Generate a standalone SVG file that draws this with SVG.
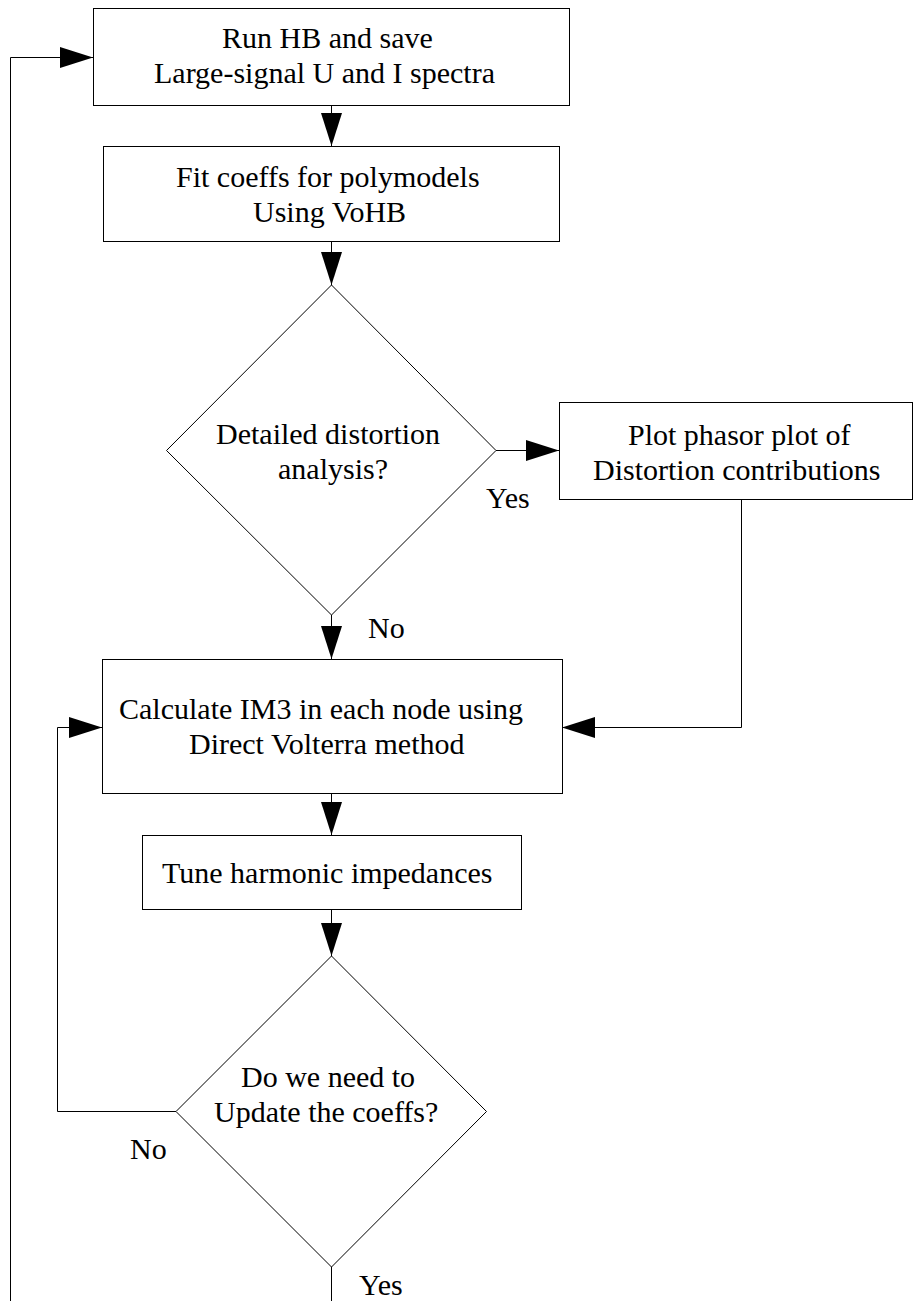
<svg xmlns="http://www.w3.org/2000/svg" width="916" height="1301" viewBox="0 0 916 1301">
<style>
.box{fill:#fff;stroke:#000;stroke-width:1}
.dia{fill:#fff;stroke:#000;stroke-width:1}
text{font-family:'Liberation Serif','Times New Roman',serif;font-size:30px;fill:#000}
.c{fill:none;stroke:#000;stroke-width:1;marker-end:url(#ah)}
</style>
<defs>
<marker id="ah" markerUnits="userSpaceOnUse" markerWidth="33" markerHeight="21" refX="33" refY="10.5" orient="auto">
<path d="M0,0 L33,10.5 L0,21 Z" fill="#000"/>
</marker>
</defs>
<rect width="916" height="1301" fill="#fff"/>
<g id="connectors">
<path class="c" d="M331.5,105 V146"/>
<path class="c" d="M331.5,241 V285"/>
<path class="c" d="M496,450.5 H559"/>
<path class="c" d="M331.5,615 V659"/>
<path class="c" d="M741.5,499 V727.5 H562"/>
<path class="c" d="M331.5,793 V835"/>
<path class="c" d="M331.5,909 V956"/>
<path class="c" d="M176,1111.5 H57.5 V727.5 H102"/>
<path class="c" d="M331.5,1267 V1320 H10.5 V57.5 H93"/>
</g>
<g id="n1">
<rect class="box" x="93.5" y="8.5" width="476" height="97"/>
<text x="222" y="48">Run HB and save</text>
<text x="154" y="83">Large-signal U and I spectra</text>
</g>
<g id="n2">
<rect class="box" x="103.5" y="146.5" width="456" height="95"/>
<text x="176" y="187">Fit coeffs for polymodels</text>
<text x="253" y="222">Using VoHB</text>
</g>
<g id="n3">
<polygon class="dia" points="331.5,285 496,450.5 331.5,615 166.5,450.5"/>
<text x="216" y="444">Detailed distortion</text>
<text x="278" y="479">analysis?</text>
</g>
<g id="n4">
<rect class="box" x="559.5" y="402.5" width="353" height="97"/>
<text x="628" y="445">Plot phasor plot of</text>
<text x="593" y="480">Distortion contributions</text>
</g>
<g id="n5">
<rect class="box" x="102.5" y="659.5" width="460" height="134"/>
<text x="119" y="719">Calculate IM3 in each node using</text>
<text x="189" y="754">Direct Volterra method</text>
</g>
<g id="n6">
<rect class="box" x="142.5" y="835.5" width="379" height="74"/>
<text x="162" y="883">Tune harmonic impedances</text>
</g>
<g id="n7">
<polygon class="dia" points="331.5,956 486.5,1111.5 331.5,1267 176,1111.5"/>
<text x="241" y="1087">Do we need to</text>
<text x="214" y="1122">Update the coeffs?</text>
</g>
<g id="labels">
<text x="486" y="508">Yes</text>
<text x="368" y="638">No</text>
<text x="130" y="1159">No</text>
<text x="359" y="1295">Yes</text>
</g>
</svg>
